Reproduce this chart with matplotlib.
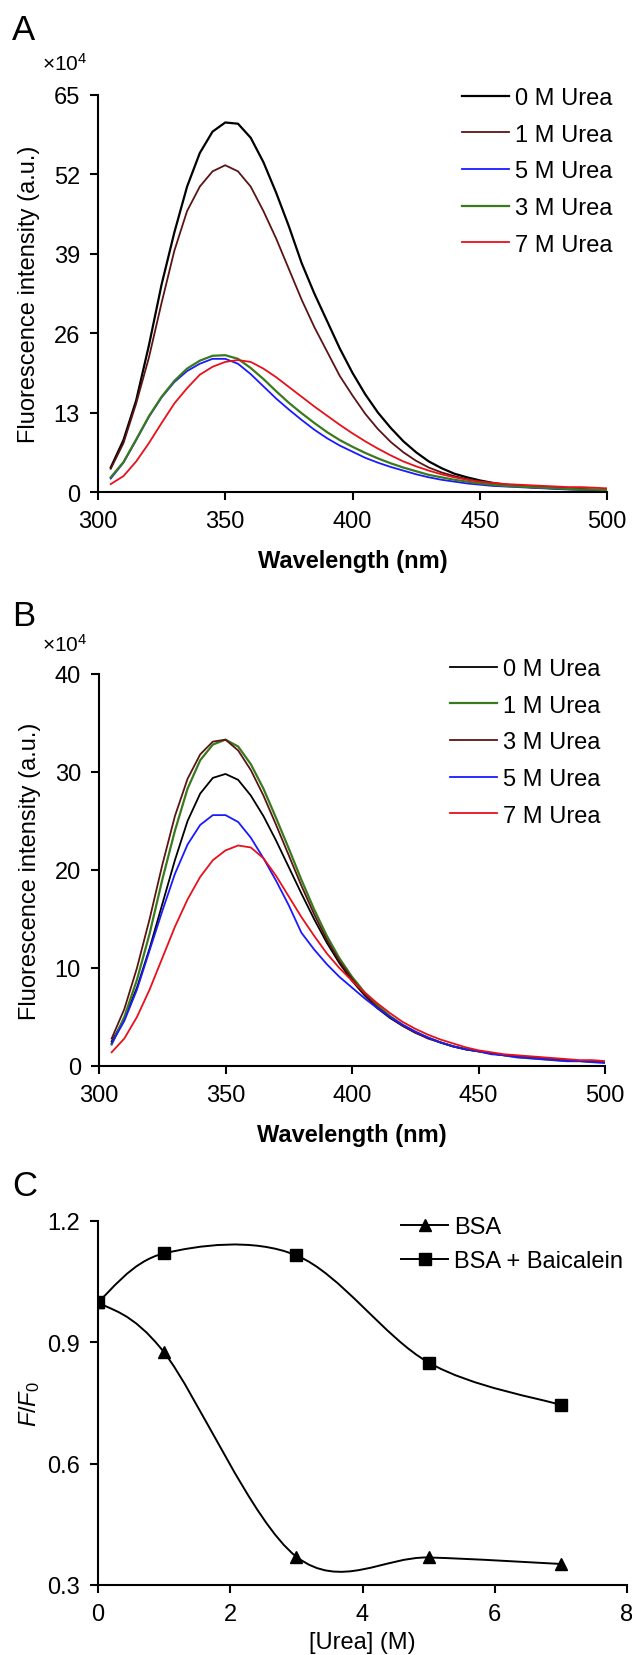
import numpy as np
import matplotlib
matplotlib.use('Agg')
import matplotlib.pyplot as plt
from matplotlib.path import Path
from matplotlib.patches import PathPatch
from matplotlib.lines import Line2D

plt.rcParams['font.family'] = ['Liberation Sans', 'DejaVu Sans']
plt.rcParams['mathtext.fontset'] = 'custom'
plt.rcParams['mathtext.rm'] = 'Liberation Sans'
plt.rcParams['mathtext.it'] = 'Liberation Sans:italic'

# wavelengths (nm)
wl = [305, 310, 315, 320, 325, 330, 335, 340, 345, 350, 355, 360, 365, 370, 375,
      380, 385, 390, 395, 400, 405, 410, 415, 420, 425, 430, 435, 440, 445, 450,
      455, 460, 465, 470, 475, 480, 485, 490, 495, 500]

# panel A, x10^4
a_0m = [4.0, 8.5, 15, 24, 34, 42.5, 50, 55.5, 59, 60.5, 60.3, 58, 54, 49, 43.5,
        37.5, 32.5, 28, 23.5, 19.5, 16, 13, 10.5, 8.3, 6.5, 5.0, 3.9, 3.0, 2.4, 1.9,
        1.5, 1.2, 1.0, 0.8, 0.7, 0.6, 0.5, 0.4, 0.3, 0.2]
a_1m = [3.8, 8, 14.5, 22, 31, 39.5, 46, 50, 52.5, 53.5, 52.5, 50, 46, 41.5, 36.5,
        31.5, 27, 23, 19, 15.8, 12.8, 10.3, 8.2, 6.5, 5.1, 4.0, 3.2, 2.6, 2.1, 1.7,
        1.4, 1.2, 1.0, 0.9, 0.8, 0.7, 0.6, 0.5, 0.4, 0.3]
a_5m = [2.2, 4.8, 8.5, 12.3, 15.5, 18, 19.8, 21, 21.8, 21.8, 21, 19.3, 17.3, 15.3, 13.5,
        11.8, 10.2, 8.8, 7.6, 6.6, 5.6, 4.8, 4.1, 3.5, 2.9, 2.4, 2.0, 1.7, 1.4, 1.2,
        1.0, 0.9, 0.8, 0.7, 0.6, 0.5, 0.4, 0.4, 0.3, 0.3]
a_3m = [2.4, 4.9, 8.6, 12.4, 15.6, 18.2, 20.2, 21.5, 22.3, 22.4, 21.8, 20.3, 18.5, 16.5, 14.6,
        12.9, 11.3, 9.8, 8.5, 7.4, 6.4, 5.5, 4.7, 4.0, 3.4, 2.8, 2.4, 2.0, 1.7, 1.4,
        1.2, 1.0, 0.9, 0.8, 0.7, 0.6, 0.5, 0.4, 0.4, 0.3]
a_7m = [1.3, 2.6, 5, 8, 11.3, 14.5, 17, 19.2, 20.5, 21.3, 21.6, 21.3, 20.2, 18.8, 17.2,
        15.6, 14, 12.5, 11, 9.6, 8.3, 7.1, 6.0, 5.0, 4.2, 3.5, 2.9, 2.4, 2.0, 1.7,
        1.5, 1.3, 1.2, 1.1, 1.0, 0.9, 0.8, 0.8, 0.7, 0.6]

# panel B, x10^4
b_0m = [2.5, 4.8, 8, 12, 16.5, 21, 25, 27.8, 29.4, 29.8, 29.2, 27.6, 25.5, 23, 20.3,
        17.6, 15, 12.6, 10.5, 8.7, 7.2, 5.9, 4.9, 4.1, 3.4, 2.9, 2.4, 2.0, 1.7, 1.5,
        1.3, 1.1, 1.0, 0.9, 0.8, 0.7, 0.6, 0.5, 0.5, 0.4]
b_1m = [2.2, 5, 8.8, 13.5, 19, 24, 28.3, 31.2, 32.8, 33.3, 32.6, 30.8, 28.3, 25.3, 22.2,
        19.0, 16, 13.3, 11, 9.1, 7.5, 6.2, 5.1, 4.2, 3.5, 2.9, 2.4, 2.0, 1.7, 1.5,
        1.3, 1.1, 0.9, 0.8, 0.7, 0.6, 0.5, 0.5, 0.4, 0.4]
b_3m = [2.8, 5.8, 10, 15, 20.5, 25.5, 29.3, 31.8, 33.1, 33.3, 32.2, 30.2, 27.6, 24.6, 21.5,
        18.4, 15.5, 12.9, 10.7, 8.9, 7.3, 6.0, 5.0, 4.1, 3.4, 2.8, 2.4, 2.0, 1.7, 1.5,
        1.3, 1.1, 1.0, 0.9, 0.8, 0.7, 0.6, 0.5, 0.5, 0.4]
b_5m = [2.3, 4.6, 7.8, 11.8, 15.8, 19.6, 22.6, 24.6, 25.6, 25.6, 24.9, 23.3, 21.2, 18.9, 16.4,
        13.6, 11.9, 10.4, 9.1, 8.0, 6.9, 5.9, 5.0, 4.2, 3.5, 2.9, 2.4, 2.0, 1.7, 1.5,
        1.2, 1.1, 0.9, 0.8, 0.7, 0.6, 0.5, 0.5, 0.4, 0.3]
b_7m = [1.4, 2.8, 5, 7.8, 11, 14.2, 17, 19.3, 21, 22, 22.5, 22.3, 21.2, 19.4, 17.3,
        15.2, 13.3, 11.5, 10, 8.7, 7.5, 6.4, 5.4, 4.5, 3.8, 3.2, 2.7, 2.3, 1.9, 1.6,
        1.4, 1.2, 1.1, 1.0, 0.9, 0.8, 0.7, 0.6, 0.6, 0.5]

# panel C
urea = [0, 1, 3, 5, 7]
bsa = [1.0, 0.875, 0.37, 0.368, 0.352]
bsa_baic = [1.0, 1.12, 1.115, 0.85, 0.745]

black = '#000000'
brown = '#5a1414'
blue = '#1a1aff'
green = '#3a7a1c'
red = '#e8101a'

FS = 17
W, H = 632, 1656
fig = plt.figure(figsize=(W / 100, H / 100), dpi=100)


def fx(px):
    return px / W


def fy(py):
    return 1 - py / H


def estilo(ax):
    ax.spines['top'].set_visible(False)
    ax.spines['right'].set_visible(False)
    for s in ['left', 'bottom']:
        ax.spines[s].set_linewidth(1.5)
    ax.tick_params(direction='out', length=6, width=1.5, pad=7, labelsize=FS)


def suave(ax, x, y, **kw):
    # bezier estilo excel entre os pontos
    pts = np.column_stack([x, y]).astype(float)
    n = len(pts)
    verts = [pts[0]]
    codes = [Path.MOVETO]
    for i in range(n - 1):
        p0 = pts[i - 1] if i > 0 else pts[i]
        p1 = pts[i]
        p2 = pts[i + 1]
        p3 = pts[i + 2] if i + 2 < n else pts[i + 1]
        c1 = p1 + (p2 - p0) / 6
        c2 = p2 - (p3 - p1) / 6
        verts += [c1, c2, p2]
        codes += [Path.CURVE4] * 3
    ax.add_patch(PathPatch(Path(verts, codes), fill=False, **kw))


# ---------- A ----------
axA = fig.add_axes([fx(98), fy(493), fx(607 - 98), (493 - 96) / H])
for vals, cor, lab, lw in [(a_0m, black, '0 M Urea', 1.6), (a_1m, brown, '1 M Urea', 1.3),
                           (a_5m, blue, '5 M Urea', 1.3), (a_3m, green, '3 M Urea', 1.6),
                           (a_7m, red, '7 M Urea', 1.3)]:
    axA.plot(wl, vals, color=cor, lw=lw, label=lab)
axA.set_xlim(300, 500)
axA.set_ylim(0, 65)
axA.set_xticks([300, 350, 400, 450, 500])
axA.set_yticks([0, 13, 26, 39, 52, 65])
estilo(axA)
axA.set_xlabel('Wavelength (nm)', fontsize=FS, fontweight='bold', labelpad=12)
axA.set_ylabel('Fluorescence intensity (a.u.)', fontsize=FS, labelpad=10)
axA.legend(loc='upper left', bbox_to_anchor=(fx(462), fy(88)), bbox_transform=fig.transFigure,
           frameon=False, fontsize=FS, handlelength=2.0, handletextpad=0.25,
           labelspacing=0.62, borderpad=0, borderaxespad=0)

# ---------- B ----------
axB = fig.add_axes([fx(99), fy(1067), fx(605 - 99), (1067 - 675) / H])
for vals, cor, lab, lw in [(b_0m, black, '0 M Urea', 1.3), (b_1m, green, '1 M Urea', 1.6),
                           (b_3m, brown, '3 M Urea', 1.3), (b_5m, blue, '5 M Urea', 1.3),
                           (b_7m, red, '7 M Urea', 1.3)]:
    axB.plot(wl, vals, color=cor, lw=lw, label=lab)
axB.set_xlim(300, 500)
axB.set_ylim(0, 40)
axB.set_xticks([300, 350, 400, 450, 500])
axB.set_yticks([0, 10, 20, 30, 40])
estilo(axB)
axB.set_xlabel('Wavelength (nm)', fontsize=FS, fontweight='bold', labelpad=12)
axB.set_ylabel('Fluorescence intensity (a.u.)', fontsize=FS, labelpad=10)
axB.legend(loc='upper left', bbox_to_anchor=(fx(450), fy(659)), bbox_transform=fig.transFigure,
           frameon=False, fontsize=FS, handlelength=2.0, handletextpad=0.25,
           labelspacing=0.62, borderpad=0, borderaxespad=0)

# ---------- C ----------
axC = fig.add_axes([fx(98), fy(1586), fx(627 - 98), (1586 - 1222) / H])
suave(axC, urea, bsa, color='black', lw=1.4)
suave(axC, urea, bsa_baic, color='black', lw=1.4)
axC.plot(urea, bsa, '^', color='black', ms=9, linestyle='none')
axC.plot(urea, bsa_baic, 's', color='black', ms=8, linestyle='none')
axC.set_xlim(0, 8)
axC.set_ylim(0.3, 1.2)
axC.set_xticks([0, 2, 4, 6, 8])
axC.set_yticks([0.3, 0.6, 0.9, 1.2])
axC.set_yticklabels(['0.3', '0.6', '0.9', '1.2'])
estilo(axC)
axC.set_xlabel('[Urea] (M)', fontsize=FS, labelpad=4)
axC.set_ylabel(r'$F$/$F_{\rm 0}$', fontsize=FS, labelpad=4)
hnd = [Line2D([], [], color='black', lw=1.4, marker='^', ms=9),
       Line2D([], [], color='black', lw=1.4, marker='s', ms=8)]
axC.legend(hnd, ['BSA', 'BSA + Baicalein'], loc='upper left', bbox_to_anchor=(fx(401), fy(1217)),
           bbox_transform=fig.transFigure, frameon=False, fontsize=FS, handlelength=2.0,
           handletextpad=0.25, labelspacing=0.5, borderpad=0, borderaxespad=0)

# letras e multiplicadores
for letra, ytop in [('A', 14), ('B', 600), ('C', 1170)]:
    fig.text(fx(12), fy(ytop), letra, fontsize=25, va='top', ha='left')
for ytop in [53, 634]:
    fig.text(fx(42), fy(ytop), r'×10$^{4}$', fontsize=15, va='top', ha='left')

fig.savefig('out.png', dpi=100)
